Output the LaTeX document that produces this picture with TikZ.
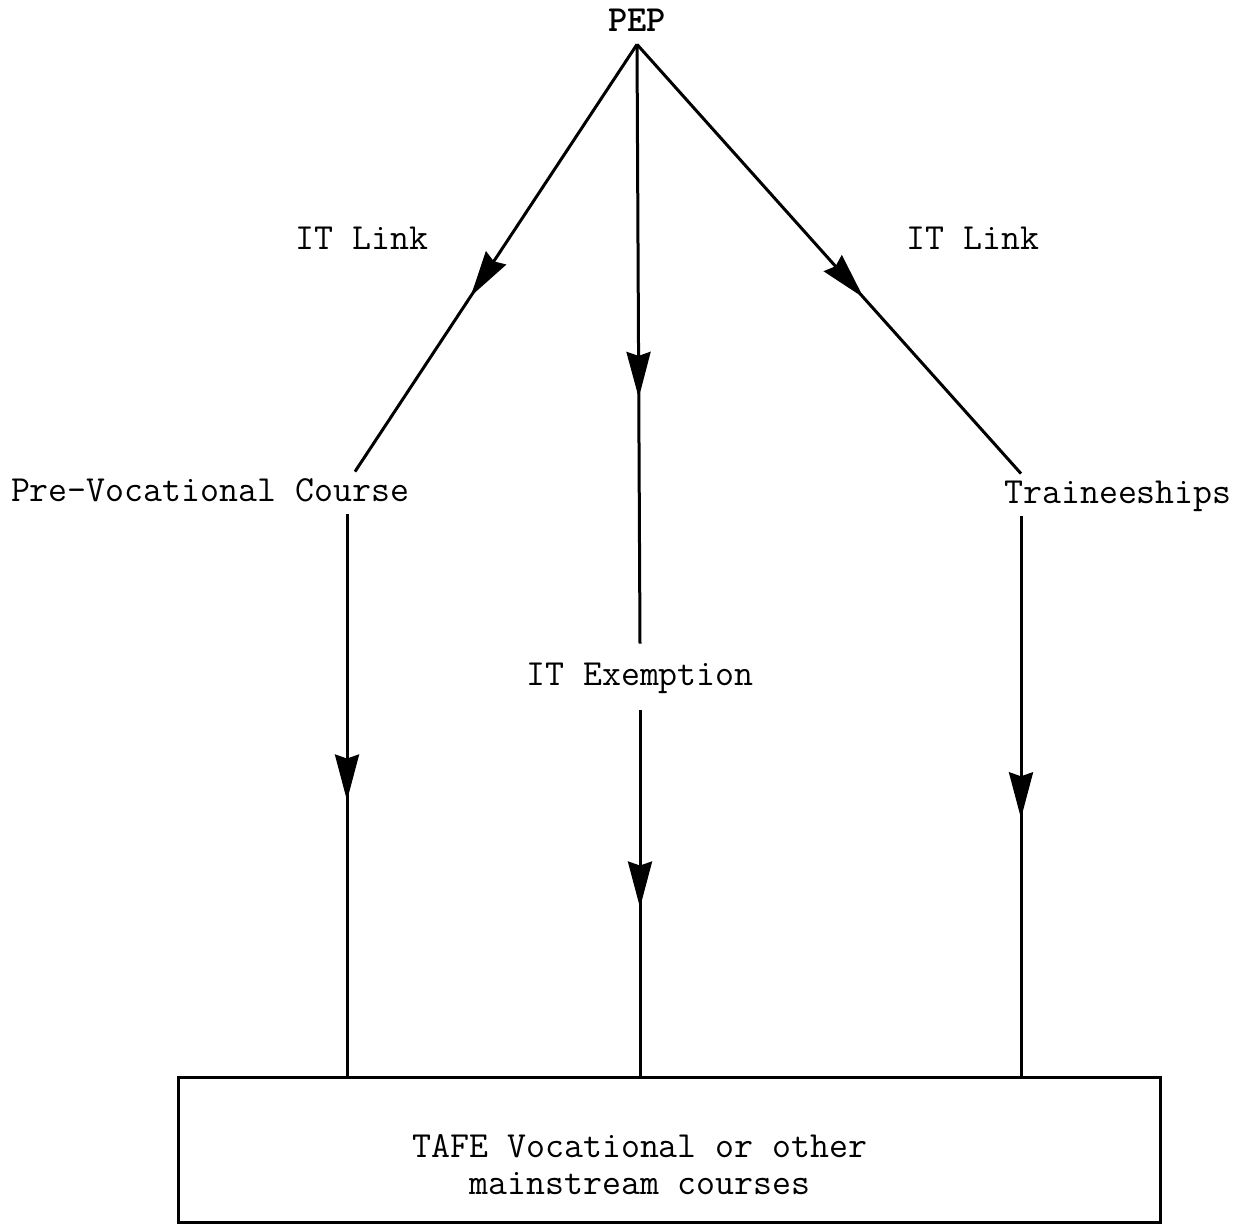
\documentclass[tikz,border=0pt]{standalone}
\usepackage{fontspec}
\usetikzlibrary{arrows.meta,decorations.markings}
\tikzset{tag/.style={font=\ttfamily\fontsize{18.4}{18.5}\selectfont,text height=12pt,text depth=3pt,inner xsep=2pt,inner ysep=3pt}}
\tikzset{flow/.style={line width=1.5pt}}
\tikzset{midarrow/.style={postaction={decorate},decoration={markings,mark=at position #1 with {\arrow{Stealth[length=23pt,width=12pt,inset=2pt]}}}}}

\begin{document}
\begin{tikzpicture}[x=0.5pt,y=-0.5pt]
\useasboundingbox (0,0) rectangle (1238,1224);

% Labels
\node[tag,font=\ttfamily\bfseries\fontsize{18.4}{18.5}\selectfont] (pep) at (637,23) {PEP};
\node[tag] (linkl) at (362,241) {IT Link};
\node[tag] (linkr) at (973,241) {IT Link};
\node[tag] (pre) at (210,493) {Pre-Vocational Course};
\node[tag] (train) at (1118,495) {Traineeships};
\node[tag,inner ysep=9pt] (exempt) at (640,677) {IT Exemption};

% TAFE box
\node[draw,line width=1.5pt,minimum width=491pt,minimum height=72.5pt,inner sep=0] (tafe) at (669,1149.5) {};
\node[tag,align=center,text height=,text depth=] (tafetext) at (640,1165) {TAFE Vocational or other\\mainstream courses};

% Line ends
\coordinate (cl) at (347,0);
\coordinate (dl) at (355,0);
\coordinate (cr) at (1021,0);

% Flows
\draw[flow,midarrow=0.59] (pep.south) -- (pre.north -| dl);
\draw[flow,midarrow=0.59] (pep.south) -- (train.north -| cr);
\draw[flow,midarrow=0.59] (pep.south) -- (exempt.north);
\draw[flow,midarrow=0.54] (exempt.south) -- (tafe.north -| exempt.south);
\draw[flow,midarrow=0.51] (pre.south -| cl) -- (tafe.north -| cl);
\draw[flow,midarrow=0.54] (train.south -| cr) -- (tafe.north -| cr);

\end{tikzpicture}
\end{document}
